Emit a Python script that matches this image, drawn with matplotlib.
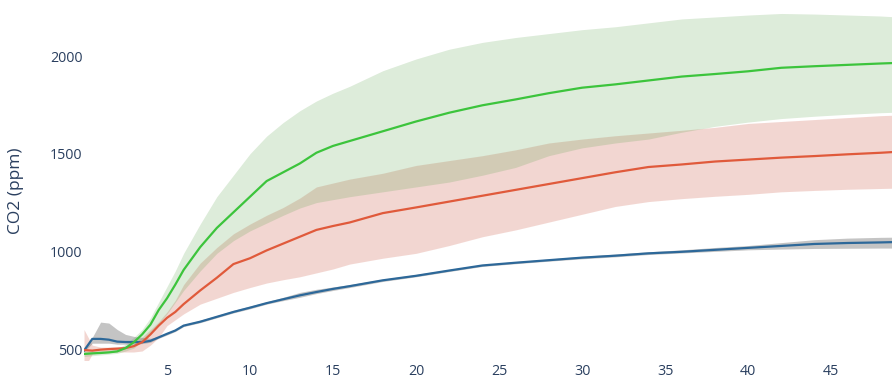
import matplotlib.pyplot as plt

# dias e CO2 (ppm)
dias = [0, 0.5, 1, 1.5, 2, 2.5, 3, 3.5, 4, 4.5, 5, 5.5, 6, 7, 8, 9, 10, 11, 12, 13,
        14, 15, 16, 18, 20, 22, 24, 26, 28, 30, 32, 34, 36, 38, 40, 42, 44, 46, 48, 49]

verde_media = [475, 478, 480, 483, 488, 505, 535, 575, 625, 700, 760, 830, 905, 1022, 1120, 1200, 1280, 1360, 1405, 1450,
               1505, 1540, 1565, 1615, 1665, 1710, 1748, 1778, 1810, 1838, 1855, 1875, 1895, 1908, 1922, 1940, 1948, 1955, 1962, 1965]
verde_sup = [490, 490, 492, 495, 500, 525, 560, 600, 660, 740, 820, 900, 990, 1140, 1280, 1390, 1500, 1590, 1660, 1720,
             1770, 1810, 1845, 1925, 1985, 2035, 2070, 2095, 2115, 2135, 2150, 2170, 2190, 2200, 2210, 2218, 2215, 2210, 2205, 2200]
verde_inf = [462, 466, 470, 474, 478, 490, 505, 540, 580, 630, 680, 740, 800, 900, 990, 1055, 1105, 1145, 1185, 1222,
             1250, 1265, 1280, 1305, 1330, 1355, 1390, 1430, 1490, 1530, 1555, 1575, 1610, 1640, 1662, 1680, 1692, 1702, 1710, 1713]

verm_media = [495, 492, 497, 500, 502, 505, 515, 535, 575, 620, 660, 690, 730, 800, 865, 935, 965, 1005, 1040, 1075,
              1110, 1130, 1148, 1196, 1225, 1255, 1285, 1315, 1345, 1375, 1405, 1432, 1445, 1460, 1470, 1480, 1488, 1497, 1505, 1510]
verm_sup = [600, 520, 510, 510, 512, 515, 525, 560, 600, 640, 690, 750, 830, 940, 1020, 1090, 1140, 1185, 1225, 1273,
            1330, 1350, 1370, 1400, 1440, 1465, 1490, 1520, 1555, 1575, 1592, 1606, 1620, 1635, 1655, 1665, 1675, 1685, 1695, 1698]
verm_inf = [400, 475, 480, 482, 485, 485, 485, 490, 520, 560, 620, 650, 680, 730, 760, 790, 815, 838, 855, 870,
            890, 910, 935, 965, 990, 1030, 1075, 1110, 1150, 1190, 1230, 1255, 1270, 1282, 1292, 1305, 1312, 1318, 1322, 1324]

azul_media = [492, 552, 552, 548, 538, 536, 536, 535, 542, 560, 578, 595, 620, 640, 665, 690, 712, 735, 755, 775,
              792, 808, 822, 852, 875, 902, 928, 942, 955, 968, 978, 990, 998, 1008, 1018, 1028, 1038, 1043, 1046, 1048]
azul_sup = [500, 560, 638, 633, 600, 575, 565, 560, 555, 565, 585, 600, 625, 648, 672, 698, 720, 742, 765, 790,
            806, 818, 830, 858, 882, 908, 933, 948, 961, 975, 986, 998, 1008, 1020, 1030, 1045, 1060, 1068, 1072, 1073]
azul_inf = [485, 530, 530, 530, 525, 525, 525, 528, 535, 555, 572, 590, 615, 635, 660, 685, 706, 730, 748, 765,
            784, 800, 815, 846, 870, 897, 923, 937, 950, 962, 972, 984, 992, 1000, 1008, 1012, 1015, 1016, 1017, 1017]

cor_texto = '#2a3f5f'
plt.rcParams['font.family'] = ['Open Sans', 'DejaVu Sans']

fig = plt.figure(figsize=(8.92, 3.85), dpi=100)
ax = fig.add_axes([84 / 892, 25 / 385, 808 / 892, 360 / 385])

# faixas (intervalos)
ax.fill_between(dias, verm_inf, verm_sup, color='#cf5f4b', alpha=0.25, linewidth=0)
ax.fill_between(dias, verde_inf, verde_sup, color='#55a046', alpha=0.2, linewidth=0)
ax.fill_between(dias, azul_inf, azul_sup, color='#8a8a8a', alpha=0.5, linewidth=0)

# médias
ax.plot(dias, azul_media, color='#2d6899', lw=1.6)
ax.plot(dias, verm_media, color='#e05a3b', lw=1.6)
ax.plot(dias, verde_media, color='#3cc43c', lw=1.6)

ax.set_xlim(0, 48.67)
ax.set_ylim(444, 2287)
ax.set_xticks([5, 10, 15, 20, 25, 30, 35, 40, 45])
ax.set_yticks([500, 1000, 1500, 2000])
ax.tick_params(length=0, labelsize=10.3, colors=cor_texto, pad=3)
ax.tick_params(axis='y', pad=1)
for s in ax.spines.values():
    s.set_visible(False)

ax.set_ylabel('CO2 (ppm)', fontsize=12.5, color=cor_texto)
ax.yaxis.set_label_coords(-60 / 808, 0.47)

fig.savefig('out.png', dpi=100)
